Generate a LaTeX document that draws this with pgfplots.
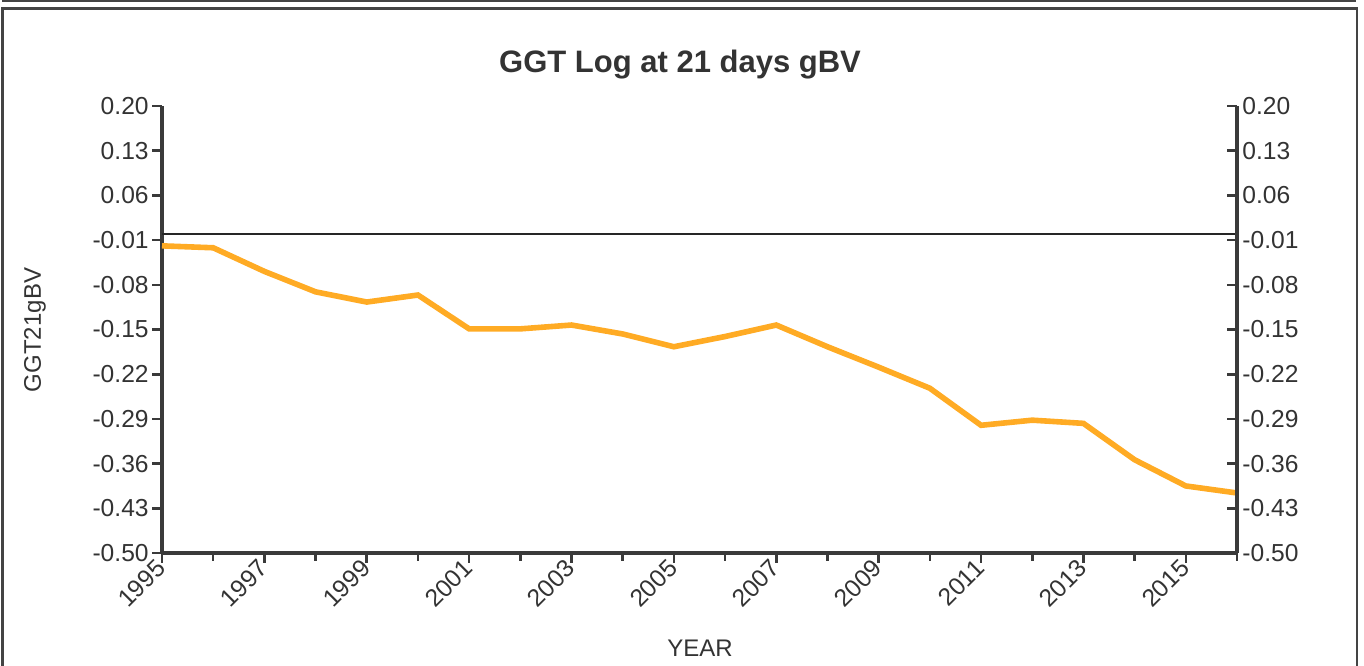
\documentclass[border=0pt]{standalone}
\usepackage{pgfplots}
\pgfplotsset{compat=1.18}
\usepackage{fontspec}
\setmainfont{Liberation Sans}
\definecolor{txt}{HTML}{333333}
\definecolor{spine}{HTML}{3A3A3A}
\definecolor{framec}{HTML}{444444}
\definecolor{lineor}{HTML}{FFAB24}
\begin{document}
\begin{tikzpicture}
\useasboundingbox (0,0) rectangle (682pt,-332.5pt);
\draw[framec, line width=1.1pt] (1pt,-0.6pt) -- (678pt,-0.6pt);
\draw[framec, line width=1.2pt] (1.3pt,-340pt) -- (1.3pt,-4.3pt) -- (678.4pt,-4.3pt) -- (678.4pt,-340pt);
\node[txt, font=\fontsize{15.5}{18}\selectfont\bfseries, anchor=base] at (340pt,-36pt) {GGT Log at 21 days gBV};
\node[txt, font=\fontsize{12}{14}\selectfont, anchor=base] at (350pt,-328pt) {YEAR};
\node[txt, font=\fontsize{12}{14}\selectfont, rotate=90] at (17.5pt,-165pt) {GGT21gBV};
\begin{axis}[
  at={(81pt,-53pt)}, anchor=north west,
  scale only axis, width=537.5pt, height=223.5pt,
  xmin=1995, xmax=2016, ymin=-0.5, ymax=0.2,
  axis x line*=bottom, axis y line*=left,
  axis line style={spine, line width=2pt, -},
  xtick={1995,1997,...,2015}, minor xtick={1996,1998,...,2016},
  xticklabels={1995,1997,1999,2001,2003,2005,2007,2009,2011,2013,2015},
  ytick={0.20,0.13,0.06,-0.01,-0.08,-0.15,-0.22,-0.29,-0.36,-0.43,-0.50},
  yticklabels={0.20,0.13,0.06,-0.01,-0.08,-0.15,-0.22,-0.29,-0.36,-0.43,-0.50},
  tick style={spine, line width=1.3pt},
  major tick length=5pt, minor tick length=4pt,
  tick align=outside,
  xticklabel style={rotate=45, anchor=east, txt, font=\fontsize{12.3}{14}\selectfont, inner sep=0.5pt},
  yticklabel style={txt, font=\fontsize{12.3}{14}\selectfont, inner sep=1.5pt},
  clip=false,
]
\addplot[black!85, line width=1pt] coordinates {(1995,0) (2016,0)};
\addplot[lineor, line width=2.8pt] coordinates {
(1995,-0.019) (1996,-0.022) (1997,-0.059) (1998,-0.091) (1999,-0.107)
(2000,-0.096) (2001,-0.149) (2002,-0.149) (2003,-0.143) (2004,-0.157)
(2005,-0.177) (2006,-0.161) (2007,-0.143) (2008,-0.177) (2009,-0.209)
(2010,-0.242) (2011,-0.300) (2012,-0.292) (2013,-0.297) (2014,-0.354)
(2015,-0.395) (2016,-0.406)};
\end{axis}
\begin{axis}[
  at={(81pt,-53pt)}, anchor=north west,
  scale only axis, width=537.5pt, height=223.5pt,
  xmin=1995, xmax=2016, ymin=-0.5, ymax=0.2,
  axis y line*=right, axis x line=none,
  axis line style={spine, line width=2pt, -},
  ytick={0.20,0.13,0.06,-0.01,-0.08,-0.15,-0.22,-0.29,-0.36,-0.43,-0.50},
  yticklabels={0.20,0.13,0.06,-0.01,-0.08,-0.15,-0.22,-0.29,-0.36,-0.43,-0.50},
  tick style={spine, line width=1.3pt},
  major tick length=5pt,
  tick align=inside,
  yticklabel style={txt, font=\fontsize{12.3}{14}\selectfont, inner sep=1.5pt, xshift=1pt},
]
\end{axis}
\end{tikzpicture}
\end{document}
